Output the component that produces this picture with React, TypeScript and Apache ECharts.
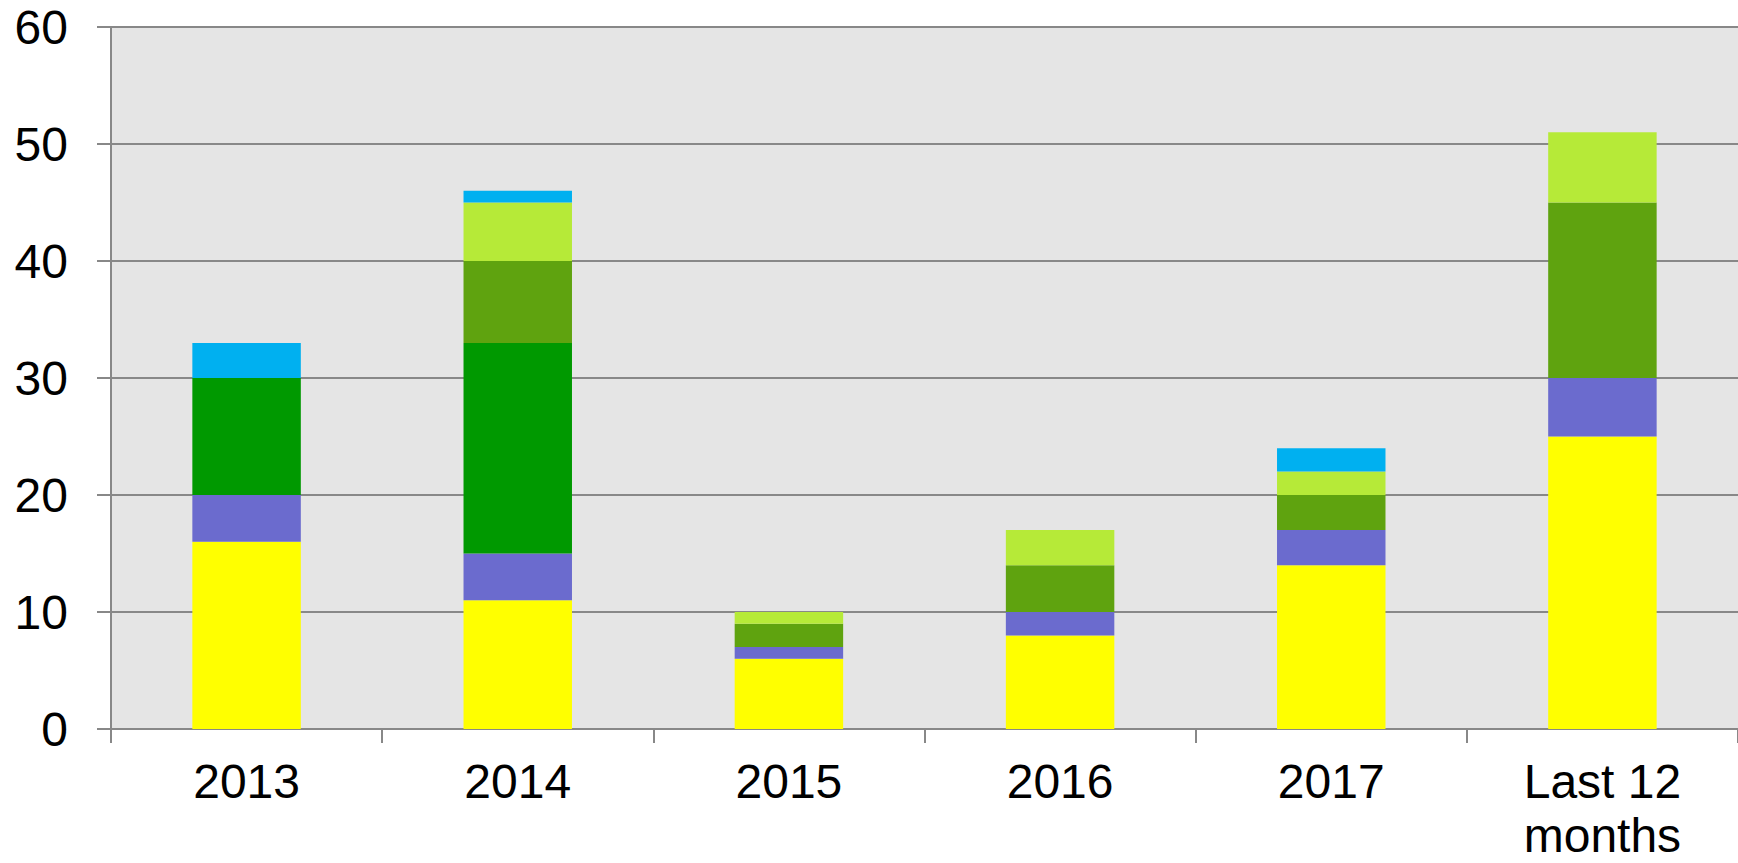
import React, { useEffect, useRef } from "react";
import * as echarts from "echarts";

const categories = ["2013", "2014", "2015", "2016", "2017", "Last 12\nmonths"];
const yellowVals = [16, 11, 6, 8, 14, 25];
const purpleVals = [4, 4, 1, 2, 3, 5];
const darkGreenVals = [10, 18, 0, 0, 0, 0];
const oliveVals = [0, 7, 2, 4, 3, 15];
const lightGreenVals = [0, 5, 1, 3, 2, 6];
const blueVals = [3, 1, 0, 0, 2, 0];

const seriesDefs = [
  { name: "A", data: yellowVals, color: "#FFFF00" },
  { name: "B", data: purpleVals, color: "#6B6BCE" },
  { name: "C", data: darkGreenVals, color: "#009900" },
  { name: "D", data: oliveVals, color: "#5FA30F" },
  { name: "E", data: lightGreenVals, color: "#B6EA38" },
  { name: "F", data: blueVals, color: "#00B0F0" },
];

export default function App() {
  const ref = useRef<HTMLDivElement>(null);
  useEffect(() => {
    if (!ref.current) return;
    const chart = echarts.init(ref.current, null, { renderer: "svg" });
    chart.setOption({
      animation: false,
      textStyle: { fontFamily: "Liberation Sans, Arial, sans-serif" },
      grid: {
        left: 111,
        right: 0,
        top: 27,
        bottom: 134,
        show: true,
        backgroundColor: "#E5E5E5",
        borderWidth: 0,
      },
      xAxis: {
        type: "category",
        data: categories,
        axisLine: { show: true, lineStyle: { color: "#888888", width: 2 } },
        axisTick: { show: true, length: 14, lineStyle: { color: "#888888", width: 2 } },
        axisLabel: {
          color: "#000",
          fontSize: 48,
          lineHeight: 54,
          margin: 25,
          interval: 0,
        },
      },
      yAxis: {
        type: "value",
        min: 0,
        max: 60,
        interval: 10,
        axisLine: { show: true, lineStyle: { color: "#888888", width: 2 } },
        axisTick: { show: true, length: 14, lineStyle: { color: "#888888", width: 2 } },
        axisLabel: { color: "#000", fontSize: 48, margin: 43 },
        splitLine: { show: true, lineStyle: { color: "#888888", width: 2 } },
      },
      series: seriesDefs.map((s) => ({
        name: s.name,
        type: "bar",
        stack: "total",
        data: s.data.map((v) => (v === 0 ? null : v)),
        barWidth: "40%",
        itemStyle: { color: s.color },
      })),
    });
    return () => chart.dispose();
  }, []);
  return (
    <div
      ref={ref}
      style={{ position: "absolute", left: 0, top: 0, width: 1738, height: 863 }}
    />
  );
}
